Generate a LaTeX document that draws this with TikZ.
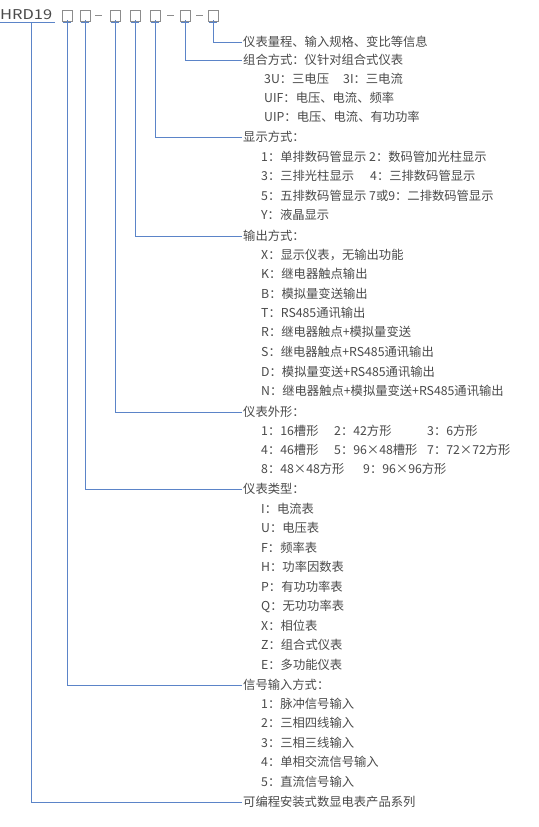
\documentclass[tikz,border=0pt]{standalone}
\usepackage{fontspec}
\setmainfont{Noto Sans CJK SC}
\definecolor{linec}{HTML}{5B84C8}
\definecolor{txtc}{HTML}{4A4A4A}
\definecolor{boxc}{HTML}{8C8C8C}
\begin{document}
\begin{tikzpicture}[x=1pt,y=-1pt,
  every node/.style={text=txtc,font=\fontsize{12.3}{13}\selectfont,inner sep=1pt},
  head/.style={anchor=west},
  item/.style={anchor=west},
  codebox/.style={draw=boxc,line width=0.7pt,minimum width=10pt,minimum height=11pt,inner sep=0pt},
  conn/.style={draw=linec,line width=0.9pt},
  dashln/.style={draw=boxc,line width=0.7pt}]
\useasboundingbox[fill=white] (0,0) rectangle (538,827);

% code line
\node[anchor=base west,inner sep=0pt,font=\fontsize{13.5}{14}\selectfont] (hrd) at (0,19.5) {\scalebox{1.22}[1]{HRD19}};
\coordinate (ul0) at (0,22);
\coordinate (ul1) at (55,22);
\coordinate (hrdtap) at (31,22);
\draw[conn] (ul0) -- (ul1);

\node[codebox] (b1) at (67,15.5) {};
\node[codebox] (b2) at (85,15.5) {};
\node[codebox] (b3) at (115,15.5) {};
\node[codebox] (b4) at (135,15.5) {};
\node[codebox] (b5) at (155,15.5) {};
\node[codebox] (b6) at (185,15.5) {};
\node[codebox] (b7) at (213,15.5) {};
\draw[dashln] (b2.east) ++(5,0) -- ++(7,0);
\draw[dashln] (b5.east) ++(7,0) -- ++(7,0);
\draw[dashln] (b6.east) ++(6,0) -- ++(7,0);

% headings
\node[head] (h7) at (242,42) {仪表量程、输入规格、变比等信息};
\node[head] (h6) at (242,60) {组合方式：仪针对组合式仪表};
\node[head] (h5) at (242,137) {显示方式：};
\node[head] (h4) at (242,236) {输出方式：};
\node[head] (h3) at (242,412) {仪表外形：};
\node[head] (h2) at (242,489) {仪表类型：};
\node[head] (h1) at (242,685) {信号输入方式：};
\node[head] (h0) at (242,802) {可编程安装式数显电表产品系列};

% connectors
\foreach \b/\h in {b1/h1,b2/h2,b3/h3,b4/h4,b5/h5,b6/h6,b7/h7}{
  \draw[conn] (\b.south) ++(-4,1) -- ++(8,0);
  \draw[conn] ([yshift=1pt]\b.south) |- (\h.west);
}
\draw[conn] (hrdtap) |- (h0.west);

% combination
\node[item] (c1) at (263,79) {3U：三电压};
\node[item] (c1b) at (342,79) {3I：三电流};
\node[item] (c2) at (263,98) {UIF：电压、电流、频率};
\node[item] (c3) at (263,117) {UIP：电压、电流、有功功率};

% display
\node[item] (d1) at (260,157) {1：单排数码管显示};
\node[item] (d1b) at (368,157) {2：数码管加光柱显示};
\node[item] (d2) at (260,176) {3：三排光柱显示};
\node[item] (d2b) at (369,176) {4：三排数码管显示};
\node[item] (d3) at (260,196) {5：五排数码管显示};
\node[item] (d3b) at (368,196) {7或9：二排数码管显示};
\node[item] (d4) at (260,215) {Y：液晶显示};

% output
\node[item] (o1) at (260,255) {X：显示仪表，无输出功能};
\node[item] (o2) at (260,274) {K：继电器触点输出};
\node[item] (o3) at (260,294) {B：模拟量变送输出};
\node[item] (o4) at (260,313) {T：RS485通讯输出};
\node[item] (o5) at (260,332) {R：继电器触点+模拟量变送};
\node[item] (o6) at (260,352) {S：继电器触点+RS485通讯输出};
\node[item] (o7) at (260,372) {D：模拟量变送+RS485通讯输出};
\node[item] (o8) at (260,391) {N：继电器触点+模拟量变送+RS485通讯输出};

% shape
\node[item] (s1) at (260,431) {1：16槽形};
\node[item] (s1b) at (333,431) {2：42方形};
\node[item] (s1c) at (426,431) {3：6方形};
\node[item] (s2) at (260,450) {4：46槽形};
\node[item] (s2b) at (333,450) {5：96×48槽形};
\node[item] (s2c) at (426,450) {7：72×72方形};
\node[item] (s3) at (260,469) {8：48×48方形};
\node[item] (s3b) at (362,469) {9：96×96方形};

% type
\node[item] (t1) at (260,509) {I：电流表};
\node[item] (t2) at (260,528) {U：电压表};
\node[item] (t3) at (260,548) {F：频率表};
\node[item] (t4) at (260,567) {H：功率因数表};
\node[item] (t5) at (260,587) {P：有功功率表};
\node[item] (t6) at (260,606) {Q：无功功率表};
\node[item] (t7) at (260,626) {X：相位表};
\node[item] (t8) at (260,645) {Z：组合式仪表};
\node[item] (t9) at (260,665) {E：多功能仪表};

% input
\node[item] (i1) at (260,704) {1：脉冲信号输入};
\node[item] (i2) at (260,723) {2：三相四线输入};
\node[item] (i3) at (260,743) {3：三相三线输入};
\node[item] (i4) at (260,762) {4：单相交流信号输入};
\node[item] (i5) at (260,782) {5：直流信号输入};
\end{tikzpicture}
\end{document}
